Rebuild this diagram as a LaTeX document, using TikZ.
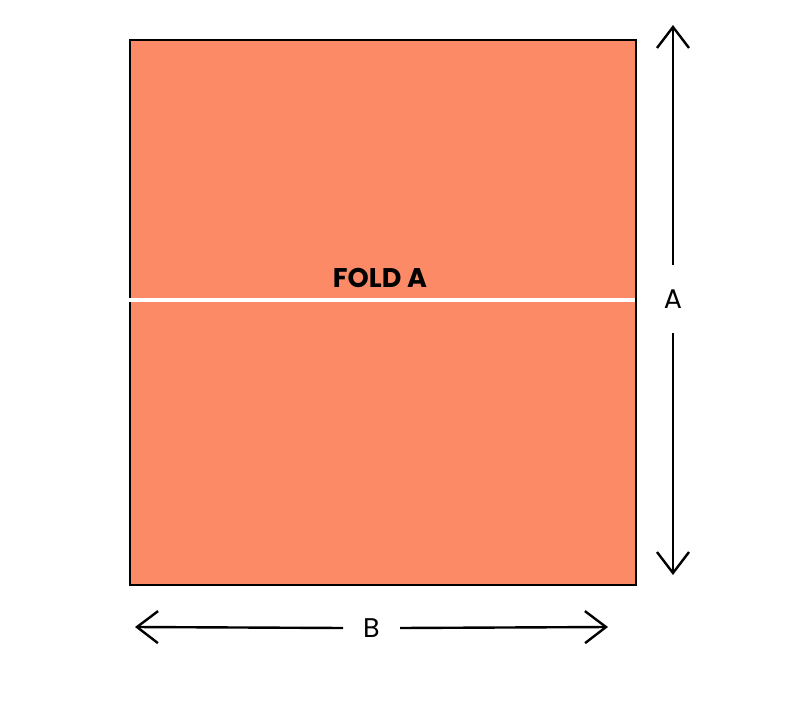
\documentclass[tikz,border=0pt]{standalone}
\usepackage{fontspec}
\setmainfont{Poppins}
\usetikzlibrary{arrows.meta}
\definecolor{paper}{RGB}{252,138,102}
\tikzset{%
    >={Straight Barb[length=21pt,width=32pt,line width=2.4pt]}, % open arrows
    inner sep=0pt,%
    outer sep=0pt,%
    sheet/.style={draw=black,line width=2.8pt,fill=paper,
        minimum width=506pt,minimum height=545pt},%
    dim line/.style={line width=2.4pt,black},%
    dim label/.style={font=\fontsize{27}{27}\selectfont},%
    fold label/.style={font=\fontsize{27}{27}\selectfont\bfseries}%
}
\begin{document}
\begin{tikzpicture}[x=1pt,y=-1pt] % folding sheet

    \useasboundingbox (0,0) rectangle (800,727);

    \node[sheet] (S) at (383,312.5) {};

    % fold line
    \coordinate (F1) at (128,300);
    \coordinate (F2) at (634.5,300);
    \draw[white,line width=4pt] (F1) -- (F2);
    \node[fold label] (fold) at (380,278) {FOLD A};

    % height A
    \coordinate (At) at (673,25);
    \coordinate (Ab) at (673,575);
    \node[dim label,minimum height=68pt] (labA) at (673,299) {A};
    \draw[dim line,->] (labA.north) -- (At);
    \draw[dim line,->] (labA.south) -- (Ab);

    % width B
    \coordinate (Bl) at (135,627);
    \coordinate (Br) at (608,627);
    \node[dim label,minimum width=57pt] (labB) at (371.5,628) {B};
    \draw[dim line,->] (labB.west) -- (Bl);
    \draw[dim line,->] (labB.east) -- (Br);

\end{tikzpicture}
\end{document}
